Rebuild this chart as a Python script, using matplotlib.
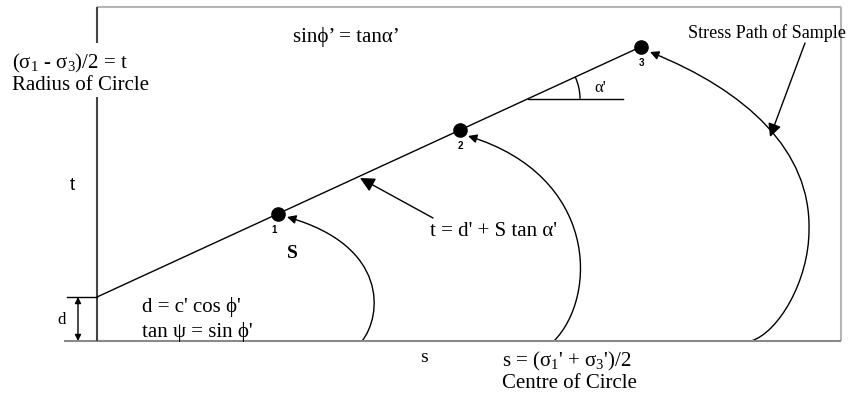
import numpy as np
import matplotlib
matplotlib.use("Agg")
import matplotlib.pyplot as plt
from matplotlib.path import Path
from matplotlib.patches import FancyArrowPatch, Arc

plt.rcParams["font.family"] = ["Liberation Serif", "DejaVu Serif"]
plt.rcParams["mathtext.fontset"] = "custom"
plt.rcParams["mathtext.rm"] = "Liberation Serif"
plt.rcParams["mathtext.it"] = "Liberation Serif:italic"

# ---- data (s, t) ----
d_intercept = 44.0            # d on the t axis
tan_alpha = 0.46              # slope of the Kf line
s_points = [181, 363, 544]    # failure points on the Kf line
point_labels = ["1", "2", "3"]
s_max = 744                   # right edge of the plot frame
t_max = 334                   # top edge of the plot frame

# stress paths: cubic Bezier control points (s, t)
path1 = [(265, 0), (285, 25), (292, 95), (190, 124)]
path2 = [(457, 0), (501, 45), (501, 165), (371, 205)]
path3 = [(654, 0), (681, 8), (712, 60), (712, 111),
         (714, 190), (650, 250), (553, 289)]

t_points = [d_intercept + s * tan_alpha for s in s_points]

fig = plt.figure(figsize=(8.56, 4.0), dpi=100)
ax = fig.add_axes([0, 0, 1, 1])
ax.set_xlim(-97, 759)
ax.set_ylim(-59, 341)
ax.set_aspect("equal")
ax.axis("off")

# frame and axes
ax.plot([0, s_max], [t_max, t_max], color="#b4b4b4", lw=1.5, solid_capstyle="butt")
ax.plot([s_max, s_max], [0, t_max], color="#b4b4b4", lw=1.5, solid_capstyle="butt")
ax.plot([-33, s_max], [0, 0], color="#8a8a8a", lw=1.5, solid_capstyle="butt")
ax.plot([0, 0], [0, 244], color="#444444", lw=1.5, solid_capstyle="butt")
ax.plot([0, 0], [298, t_max], color="#444444", lw=1.5, solid_capstyle="butt")
ax.plot([-30, 0], [d_intercept, d_intercept], color="black", lw=1)

# d dimension arrow
ax.add_patch(FancyArrowPatch((-19, 0), (-19, d_intercept), arrowstyle="<|-|>",
                             mutation_scale=9, color="black", lw=1,
                             shrinkA=0, shrinkB=0))

# Kf line
s_line = np.array([0, s_points[-1]])
ax.plot(s_line, d_intercept + s_line * tan_alpha, color="black", lw=1)
ax.plot(s_points, t_points, "o", color="black", ms=9.5)
for s, t, lab in zip(s_points, t_points, point_labels):
    dx = -4 if lab == "1" else 0
    ax.text(s + dx, t - 16, lab, family="Liberation Sans", weight="bold",
            fontsize=7, ha="center", va="center")

# angle alpha'
s_a = 431
t_a = d_intercept + s_a * tan_alpha
ax.plot([s_a, s_a + 95], [t_a, t_a], color="black", lw=1)
ax.add_patch(Arc((s_a, t_a), 104, 104, theta1=0,
                 theta2=np.degrees(np.arctan(tan_alpha)), color="black", lw=1))
ax.text(503, 253, "α'", fontsize=12, ha="center", va="center")

# stress paths
def bezier(pts):
    codes = [Path.MOVETO] + [Path.CURVE4] * (len(pts) - 1)
    return Path(pts, codes)

for pts in (path1, path2, path3):
    ax.add_patch(FancyArrowPatch(path=bezier(pts), arrowstyle="-|>",
                                 mutation_scale=13, color="black", lw=1))

# annotation arrows
ax.add_patch(FancyArrowPatch((336, 123), (263, 163), arrowstyle="-|>",
                             mutation_scale=22, color="black", lw=1,
                             shrinkA=0, shrinkB=0))
ax.add_patch(FancyArrowPatch((708, 298), (673, 204), arrowstyle="-|>",
                             mutation_scale=20, color="black", lw=1,
                             shrinkA=0, shrinkB=0))

# text
fs = 15
ax.text(-85, 278, "(σ$_1$ - σ$_3$)/2 = t", fontsize=fs, ha="left", va="center")
ax.text(-85, 255, "Radius of Circle", fontsize=fs, ha="left", va="center")
ax.text(-25, 156, "t", family="Liberation Sans", fontsize=13, ha="center", va="center")
ax.text(196, 304, "sinϕ’ = tanα’", fontsize=fs, ha="left", va="center")
ax.text(591, 308, "Stress Path of Sample", fontsize=13, ha="left", va="center")
ax.text(333, 109, "t = d' + S tan α'", fontsize=fs, ha="left", va="center")
ax.text(195, 88, "S", fontsize=14, weight="bold", ha="center", va="center")
ax.text(45, 34, "d = c' cos ϕ'", fontsize=fs, ha="left", va="center")
ax.text(45, 9, "tan ψ = sin ϕ'", fontsize=fs, ha="left", va="center")
ax.text(-35, 21, "d", fontsize=12, ha="center", va="center")
ax.text(327, -16, "s", fontsize=14, ha="center", va="center")
ax.text(405, -20, "s = (σ$_1$' + σ$_3$')/2", fontsize=fs, ha="left", va="center")
ax.text(405, -42, "Centre of Circle", fontsize=fs, ha="left", va="center")

fig.savefig("out.png", dpi=100, facecolor="white")
